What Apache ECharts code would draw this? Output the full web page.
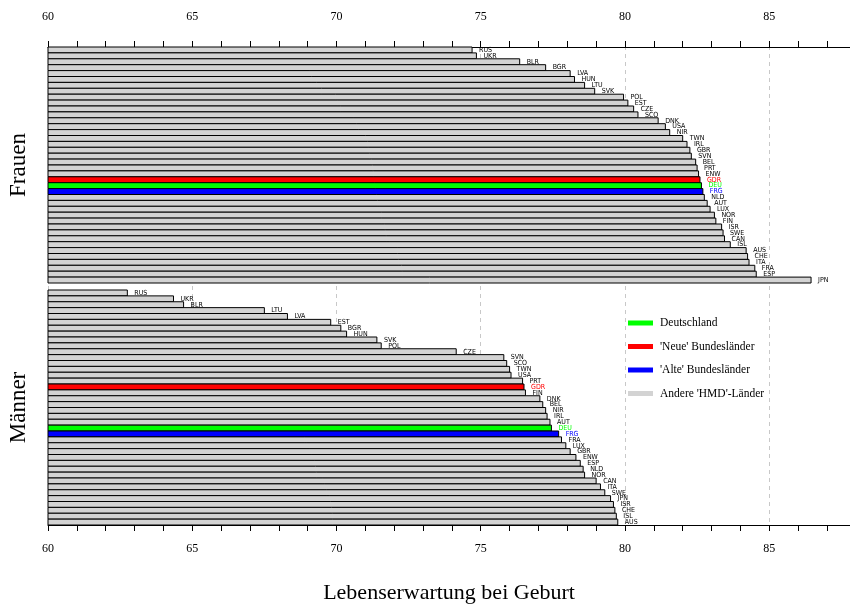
<!DOCTYPE html>
<html>
<head>
<meta charset="utf-8">
<script src="https://cdn.jsdelivr.net/npm/echarts@6/dist/echarts.min.js"></script>
<style>
  html, body { margin: 0; padding: 0; background: #ffffff; }
  #chart { width: 850px; height: 607px; }
</style>
</head>
<body>
<div id="chart"></div>
<script>
// Life expectancy at birth, women (top panel), sorted ascending
const femaleCountries = ['RUS','UKR','BLR','BGR','LVA','HUN','LTU','SVK','POL','EST','CZE','SCO','DNK','USA','NIR','TWN','IRL','GBR','SVN','BEL','PRT','ENW','GDR','DEU','FRG','NLD','AUT','LUX','NOR','FIN','ISR','SWE','CAN','ISL','AUS','CHE','ITA','FRA','ESP','JPN'];
const femaleValues = [74.7, 74.85, 76.35, 77.25, 78.1, 78.25, 78.6, 78.95, 79.95, 80.1, 80.3, 80.45, 81.15, 81.4, 81.55, 82.0, 82.15, 82.25, 82.3, 82.45, 82.5, 82.55, 82.6, 82.65, 82.7, 82.75, 82.85, 82.95, 83.1, 83.15, 83.35, 83.4, 83.45, 83.65, 84.2, 84.25, 84.3, 84.5, 84.55, 86.45];

// Life expectancy at birth, men (bottom panel), sorted ascending
const maleCountries = ['RUS','UKR','BLR','LTU','LVA','EST','BGR','HUN','SVK','POL','CZE','SVN','SCO','TWN','USA','PRT','GDR','FIN','DNK','BEL','NIR','IRL','AUT','DEU','FRG','FRA','LUX','GBR','ENW','ESP','NLD','NOR','CAN','ITA','SWE','JPN','ISR','CHE','ISL','AUS'];
const maleValues = [62.75, 64.35, 64.7, 67.5, 68.3, 69.8, 70.15, 70.35, 71.4, 71.55, 74.15, 75.8, 75.9, 76.0, 76.05, 76.45, 76.5, 76.55, 77.05, 77.15, 77.25, 77.3, 77.4, 77.45, 77.7, 77.8, 77.95, 78.1, 78.3, 78.45, 78.55, 78.6, 79.0, 79.15, 79.3, 79.5, 79.6, 79.65, 79.7, 79.75];

// Legend entries and their colours (Germany, east, west, other HMD countries)
const legendNames = ['Deutschland', "'Neue' Bundesländer", "'Alte' Bundesländer", "Andere 'HMD'-Länder"];
const legendColors = ['#00ff00', '#ff0000', '#0000ff', '#d3d3d3'];
const highlightCodes = ['DEU', 'GDR', 'FRG'];

const panelNames = ['Frauen', 'Männer'];
const axisTitle = 'Lebenserwartung bei Geburt';
const axisMin = 60;
const axisMax = 87.8;

function colorFor(code) {
  const i = highlightCodes.indexOf(code);
  return i >= 0 ? legendColors[i] : legendColors[3];
}

function makeRenderer(codes) {
  return function (params, api) {
    const code = codes[params.dataIndex];
    const v = api.value(0);
    const cat = api.value(1);
    const start = api.coord([axisMin, cat]);
    const end = api.coord([v, cat]);
    const h = api.size([0, 1])[1];
    const hi = highlightCodes.indexOf(code) >= 0;
    return {
      type: 'group',
      children: [
        {
          type: 'rect',
          shape: { x: start[0], y: end[1] - h / 2, width: end[0] - start[0], height: h },
          style: { fill: colorFor(code), stroke: '#000000', lineWidth: 1 }
        },
        {
          type: 'text',
          x: end[0] + 7,
          y: end[1],
          style: {
            text: code,
            fill: hi ? colorFor(code) : '#000000',
            font: '7px "DejaVu Sans Condensed", "DejaVu Sans", sans-serif',
            verticalAlign: 'middle',
            align: 'left'
          }
        }
      ]
    };
  };
}

const tickLabel = v => (v % 5 === 0 ? String(v) : '');
const serif = '"Liberation Serif", "DejaVu Serif", serif';

function panelXAxis(gridIndex, position, margin) {
  return {
    gridIndex: gridIndex,
    type: 'value',
    position: position,
    min: axisMin,
    max: axisMax,
    interval: 1,
    axisLine: { show: true, lineStyle: { color: '#000000', width: 1 } },
    axisTick: { show: true, inside: false, length: 6, lineStyle: { color: '#000000' } },
    axisLabel: { formatter: tickLabel, margin: margin, color: '#000000', fontFamily: serif, fontSize: 12, showMaxLabel: false },
    splitLine: { show: false }
  };
}

function panelYAxis(gridIndex, codes, name) {
  return {
    gridIndex: gridIndex,
    type: 'category',
    data: codes,
    inverse: true,
    axisLine: { show: false },
    axisTick: { show: false },
    axisLabel: { show: false },
    name: name,
    nameLocation: 'middle',
    nameRotate: 90,
    nameGap: 18,
    nameTextStyle: { fontFamily: serif, fontSize: 23, color: '#000000' }
  };
}

const chart = echarts.init(document.getElementById('chart'), null, { renderer: 'canvas' });

const bottomAxis = panelXAxis(1, 'bottom', 18);
bottomAxis.name = axisTitle;
bottomAxis.nameLocation = 'middle';
bottomAxis.nameGap = 57;
bottomAxis.nameTextStyle = { fontFamily: serif, fontSize: 22, color: '#000000' };

const legendSeries = legendNames.map((n, i) => ({
  name: n,
  type: 'line',
  xAxisIndex: 2,
  yAxisIndex: 2,
  data: [],
  color: legendColors[i],
  lineStyle: { color: legendColors[i] },
  itemStyle: { color: legendColors[i] }
}));

const gridBase = { left: 48, right: 0, containLabel: false, outerBoundsMode: 'none' };

chart.setOption({
  animation: false,
  backgroundColor: '#ffffff',
  grid: [
    Object.assign({ top: 47, height: 236 }, gridBase),
    Object.assign({ top: 290, height: 235 }, gridBase),
    Object.assign({ top: 46, height: 479 }, gridBase)
  ],
  xAxis: [
    panelXAxis(0, 'top', 24),
    bottomAxis,
    {
      gridIndex: 2,
      type: 'value',
      min: axisMin,
      max: axisMax,
      interval: 5,
      axisLine: { show: false },
      axisTick: { show: false },
      axisLabel: { show: false },
      splitLine: { show: true, lineStyle: { color: '#c8c8c8', type: [4, 4], width: 1 } }
    }
  ],
  yAxis: [
    panelYAxis(0, femaleCountries, panelNames[0]),
    panelYAxis(1, maleCountries, panelNames[1]),
    { gridIndex: 2, type: 'value', show: false, splitLine: { show: false } }
  ],
  legend: {
    selectedMode: false,
    orient: 'vertical',
    left: 623,
    top: 311,
    icon: 'rect',
    itemWidth: 25,
    itemHeight: 5,
    itemGap: 9.5,
    data: legendNames,
    textStyle: { fontFamily: serif, fontSize: 11.5, color: '#000000', lineHeight: 14, padding: [0, 0, 0, 2] }
  },
  series: [
    {
      type: 'custom',
      xAxisIndex: 0,
      yAxisIndex: 0,
      renderItem: makeRenderer(femaleCountries),
      encode: { x: 0, y: 1 },
      data: femaleValues.map((v, i) => [v, i]),
      z: 3
    },
    {
      type: 'custom',
      xAxisIndex: 1,
      yAxisIndex: 1,
      renderItem: makeRenderer(maleCountries),
      encode: { x: 0, y: 1 },
      data: maleValues.map((v, i) => [v, i]),
      z: 3
    }
  ].concat(legendSeries)
});
</script>
</body>
</html>
